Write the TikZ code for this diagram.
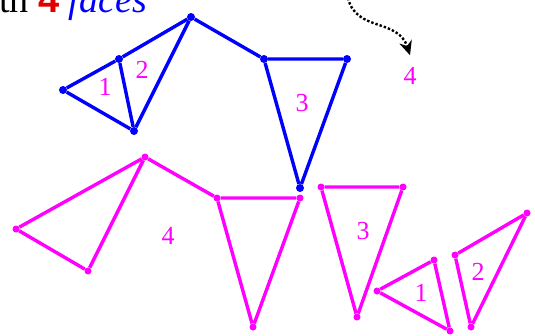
\documentclass[tikz,border=0pt]{standalone}
\usepackage{fontspec}
\setmainfont{Liberation Serif}
\setsansfont{Liberation Sans}
\newfontfamily\timesfont{Liberation Serif}
\usepackage{xcolor}
\usetikzlibrary{arrows.meta,positioning,calc}
\definecolor{edgeblue}{HTML}{0000FF}
\definecolor{facepink}{HTML}{FF00FF}
\definecolor{numred}{HTML}{E00000}

\begin{document}
\begin{tikzpicture}[
  x=1pt,y=-1pt,
  bv/.style={circle,fill=edgeblue,inner sep=0pt,minimum size=8pt},
  pv/.style={circle,fill=facepink,inner sep=0pt,minimum size=7pt},
  bedge/.style={draw=edgeblue,line width=3.4pt,line join=round},
  pedge/.style={draw=facepink,line width=3.4pt,line join=round},
  lbl/.style={text=facepink,font=\timesfont\fontsize{26}{28}\selectfont,inner sep=0pt},
  hint/.style={-{Stealth[length=5mm,width=4.5mm]},black,line width=2.4pt,dotted}
]
\useasboundingbox (0,0) rectangle (535,335);
\clip (0,0) rectangle (535,335);
% title line, cut at the top
\node[anchor=base east,inner sep=0pt,font=\timesfont\fontsize{38}{40}\selectfont] (title) at (147,12)
  {with \textcolor{numred}{\sffamily\bfseries 4} \textcolor{edgeblue}{\itshape faces}};
% plane graph
\node[bv] (a) at (63,90)  {};
\node[bv] (b) at (119,59) {};
\node[bv] (c) at (134,131) {};
\node[bv] (d) at (191,17) {};
\node[bv] (e) at (264,59) {};
\node[bv] (f) at (347,59) {};
\node[bv] (g) at (300,188) {};
\draw[bedge] (a) -- (b) -- (d) -- (e) -- (f) -- (g) -- (e);
\draw[bedge] (a) -- (c) -- (b); \draw[bedge] (c) -- (d);
\node[lbl] (l1) at (105,87)  {1};
\node[lbl] (l2) at (142,70)  {2};
\node[lbl] (l3) at (302,103) {3};
% outer face
\node[lbl] (l4) at (410,76) {4};
\coordinate (top) at (348,-2);
\draw[hint] (top) .. controls (356,32) and (398,18) .. ([yshift=12pt]l4.north);
% faces cut apart
\node[pv] (o1) at (16,229)  {};
\node[pv] (o2) at (88,271)  {};
\node[pv] (o3) at (145,157) {};
\node[pv] (o4) at (217,198) {};
\node[pv] (o5) at (300,198) {};
\node[pv] (o6) at (253,327) {};
\draw[pedge] (o2) -- (o1) -- (o3) -- (o2);
\draw[pedge] (o3) -- (o4) -- (o5) -- (o6) -- (o4);
\node[lbl] (m4) at (168,236) {4};
\node[pv] (t1) at (321,187) {};
\node[pv] (t2) at (403,187) {};
\node[pv] (t3) at (357,317) {};
\draw[pedge] (t1) -- (t2) -- (t3) -- (t1);
\node[lbl] (m3) at (363,231) {3};
\node[pv] (u1) at (377,291) {};
\node[pv] (u2) at (434,260) {};
\node[pv] (u3) at (450,331) {};
\draw[pedge] (u1) -- (u2) -- (u3) -- (u1);
\node[lbl] (m1) at (421,293) {1};
\node[pv] (w1) at (455,255) {};
\node[pv] (w2) at (527,213) {};
\node[pv] (w3) at (471,327) {};
\draw[pedge] (w1) -- (w2) -- (w3) -- (w1);
\node[lbl] (m2) at (478,272) {2};
\end{tikzpicture}
\end{document}
